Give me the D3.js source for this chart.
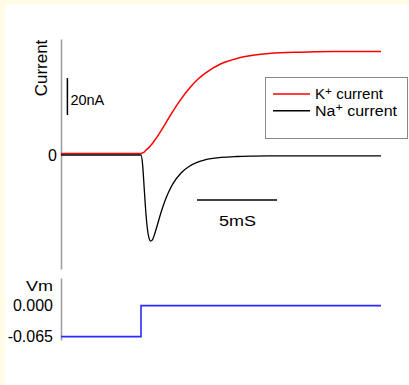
<!DOCTYPE html>
<html><head><meta charset="utf-8">
<script src="https://cdn.jsdelivr.net/npm/d3@7"></script>
<style>
html,body{margin:0;padding:0;background:#fffbe5;}
svg{display:block;font-family:"Liberation Sans",Arial,sans-serif;}
</style></head>
<body><svg id="c" width="409" height="385"></svg>
<script>
// time (ms) for current traces
const timeMs = [0,1,2,3,4,5,5.1,5.2,5.25,5.3,5.4,5.5,5.6,5.7,5.75,5.8,6.0,6.25,6.5,6.75,7.0,7.5,8.0,8.5,9.0,10,11,12,13,15,17,20];
const kCurrent = [0.8,0.8,0.8,0.8,0.8,0.8,1.2,1.6,2.1,2.6,3.3,4.1,5.1,6.1,6.7,7.3,9.7,13.1,16.6,20.2,23.7,30.2,35.8,40.5,44.1,49.3,52.2,53.9,54.9,55.6,55.9,56.0];
const naCurrent = [0,0,0,0,0,0,-5.2,-17.9,-24.5,-30.8,-40.0,-44.9,-46.5,-46.0,-45.2,-44.1,-38.5,-31.1,-24.7,-19.6,-15.5,-9.7,-6.2,-4.0,-2.6,-1.3,-0.8,-0.6,-0.5,-0.5,-0.5,-0.5];
// membrane potential (V)
const vmTime = [0,5,20];
const vmValues = [-0.065,0,0];
const currentTicks = [0];
const vmTicks = [0,-0.065];
const legendLabels = [["K","+"," current"],["Na","+"," current"]];
const seriesColors = ["#ff0000","#000000"];

const svg = d3.select("#c");
svg.append("rect").attr("x",5).attr("y",4).attr("width",404).attr("height",381).attr("fill","#fff");

const x = d3.scaleLinear().domain([0,20]).range([61,381]);
const yI = d3.scaleLinear().domain([-61.6,62.7]).range([269,39]);
const yV = d3.scaleLinear().domain([-0.0722,0.0582]).range([340,278]);

function styleAxis(g){
  g.select(".domain").attr("stroke","#a0a0a0").attr("stroke-width",1.6);
  g.selectAll(".tick line").remove();
  g.selectAll("text").attr("font-size",16).attr("fill","#000").attr("font-family","Liberation Sans, Arial, sans-serif");
}
svg.append("g").attr("transform","translate(61,0)")
  .call(d3.axisLeft(yI).tickValues(currentTicks).tickSize(0).tickSizeOuter(0).tickPadding(4).tickFormat(d=>String(d)))
  .call(styleAxis);
svg.append("g").attr("transform","translate(61,0)")
  .call(d3.axisLeft(yV).tickValues(vmTicks).tickSize(0).tickSizeOuter(0).tickPadding(8).tickFormat(d=>d.toFixed(3)))
  .call(styleAxis);

svg.append("text").attr("transform","translate(47,"+((39+97)/2)+") rotate(-90)")
  .attr("text-anchor","middle").attr("font-size",17).text("Current");
svg.append("text").attr("x",53).attr("y",291).attr("text-anchor","end").attr("font-size",15)
  .attr("textLength",27).attr("lengthAdjust","spacingAndGlyphs").text("Vm");

const lineI = (vals)=> d3.line().x((d,i)=>x(timeMs[i])).y(d=>yI(d)).curve(d3.curveMonotoneX)(vals);
svg.append("path").attr("d",lineI(kCurrent)).attr("fill","none").attr("stroke",seriesColors[0]).attr("stroke-width",1.5);
svg.append("path").attr("d",lineI(naCurrent)).attr("fill","none").attr("stroke",seriesColors[1]).attr("stroke-width",1.3);

svg.append("path")
  .attr("d", d3.line().x((d,i)=>x(vmTime[i])).y(d=>yV(d)).curve(d3.curveStepAfter)(vmValues))
  .attr("fill","none").attr("stroke","#2a2aff").attr("stroke-width",1.6);

// scale bars
svg.append("line").attr("x1",x(0.4)).attr("x2",x(0.4)).attr("y1",yI(21.6)).attr("y2",yI(41.6)).attr("stroke","#000").attr("stroke-width",1.5);
svg.append("text").attr("x",x(0.4)+3).attr("y",yI(27.2)).attr("font-size",14.5).text("20nA");
svg.append("line").attr("x1",x(8.5)).attr("x2",x(13.5)).attr("y1",yI(-24.3)).attr("y2",yI(-24.3)).attr("stroke","#000").attr("stroke-width",1.5);
svg.append("text").attr("x",x(11)-18).attr("y",yI(-24.3)+26).attr("font-size",15.5)
  .attr("textLength",37).attr("lengthAdjust","spacingAndGlyphs").text("5mS");

// legend
const lg = svg.append("g");
lg.append("rect").attr("x",265.5).attr("y",77.5).attr("width",142).attr("height",61).attr("fill","#fff").attr("stroke","#888").attr("stroke-width",1);
const legendWidths = [68,82];
legendLabels.forEach((lab,i)=>{
  const yy = 94 + i*16.7;
  lg.append("line").attr("x1",273).attr("x2",310).attr("y1",yy).attr("y2",yy).attr("stroke",seriesColors[i]).attr("stroke-width",1.5);
  const t = lg.append("text").attr("x",315).attr("y",yy+5).attr("font-size",14)
    .attr("textLength",legendWidths[i]).attr("lengthAdjust","spacingAndGlyphs");
  t.append("tspan").text(lab[0]);
  t.append("tspan").attr("dy",-4.5).attr("font-size",11).text(lab[1]);
  t.append("tspan").attr("dy",4.5).text(lab[2]);
});
</script></body></html>
